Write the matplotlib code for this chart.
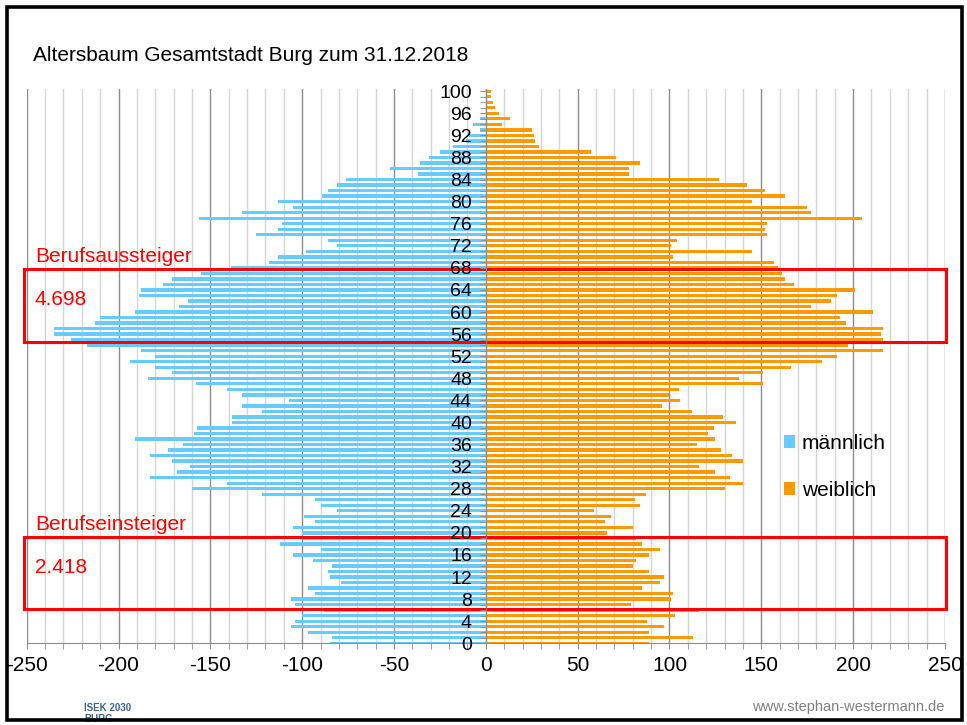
import numpy as np
import matplotlib
matplotlib.use('Agg')
import matplotlib.pyplot as plt
from matplotlib.ticker import MultipleLocator
from matplotlib.patches import Rectangle

plt.rcParams['font.family'] = ['Liberation Sans', 'DejaVu Sans']
plt.rcParams['axes.unicode_minus'] = False

# Altersbaum Burg, 31.12.2018 - Einwohner je Altersjahr
ages = np.arange(0, 101)
maennlich = [-85, -84, -97, -106, -104, -100, -88, -104, -106, -93,
             -97, -79, -85, -86, -84, -94, -105, -90, -112, -100,
             -100, -105, -93, -99, -81, -90, -93, -122, -160, -141,
             -183, -168, -161, -171, -183, -173, -165, -191, -159, -157,
             -138, -138, -122, -133, -107, -133, -141, -158, -184, -171,
             -180, -194, -180, -188, -217, -226, -235, -235, -213, -210,
             -191, -167, -162, -189, -188, -176, -171, -155, -139, -118,
             -113, -98, -81, -86, -125, -113, -111, -156, -133, -105,
             -113, -89, -86, -81, -76, -37, -52, -36, -31, -25,
             -18, -11, -9, -3, -7, -3, 0, 0, 0, 0, 0]
weiblich = [89, 113, 89, 97, 88, 103, 116, 79, 101, 102,
            85, 95, 97, 89, 80, 82, 89, 95, 85, 82,
            66, 80, 65, 68, 59, 84, 81, 87, 130, 140,
            133, 125, 116, 140, 134, 128, 115, 125, 121, 124,
            136, 129, 112, 96, 106, 100, 105, 151, 138, 151,
            166, 183, 191, 216, 197, 216, 215, 216, 196, 193,
            211, 177, 188, 191, 201, 168, 163, 161, 159, 157,
            102, 145, 101, 104, 153, 152, 153, 205, 177, 175,
            145, 163, 152, 142, 127, 78, 78, 84, 71, 57,
            29, 27, 26, 25, 9, 13, 7, 5, 4, 3, 3]
serien = ['männlich', 'weiblich']
farben = ['#66CCFF', '#FF9900']

# markierte Gruppen: (Titel, Anzahl, Altersbereich des Kastens)
gruppen = [('Berufsaussteiger', '4.698', 54.6, 67.8),
           ('Berufseinsteiger', '2.418', 6.2, 19.3)]

fig = plt.figure(figsize=(9.67, 7.25), dpi=100)
pos = [0.0276, 0.1127, 0.9496, 0.7645]
ax = fig.add_axes(pos)

b1 = ax.barh(ages, maennlich, height=0.6, color=farben[0], zorder=2)
b2 = ax.barh(ages, weiblich, height=0.6, color=farben[1], zorder=2)

ax.set_xlim(-250, 250)
ax.set_ylim(0, 100.4)
ax.xaxis.set_major_locator(MultipleLocator(50))
ax.xaxis.set_minor_locator(MultipleLocator(10))
ax.grid(axis='x', which='major', color='#8c8c8c', lw=1)
ax.grid(axis='x', which='minor', color='#d6d6d6', lw=1)
ax.set_axisbelow(True)
for s in ['top', 'right', 'left']:
    ax.spines[s].set_visible(False)
ax.spines['bottom'].set_color('#8c8c8c')
ax.tick_params(axis='y', which='both', left=False, labelleft=False)
ax.tick_params(axis='x', which='both', direction='out', length=4,
               color='#8c8c8c', labelsize=15, pad=5)

# Alters-Achse in der Mitte, ueber den Balken
ax2 = fig.add_axes(pos)
ax2.patch.set_visible(False)
ax2.set_xlim(-250, 250)
ax2.set_ylim(0, 100.4)
for s in ['top', 'right', 'bottom']:
    ax2.spines[s].set_visible(False)
ax2.spines['left'].set_position(('data', 0))
ax2.spines['left'].set_color('#8c8c8c')
ax2.set_xticks([])
ax2.yaxis.set_major_locator(MultipleLocator(4))
ax2.yaxis.set_minor_locator(MultipleLocator(1))
ax2.tick_params(axis='y', which='both', direction='out', length=4,
                color='#8c8c8c', labelsize=14, pad=6)

for titel, anzahl, y0, y1 in gruppen:
    ax.add_patch(Rectangle((-251.5, y0), 502, y1 - y0, fill=False,
                           ec='#FF0000', lw=2.2, clip_on=False, zorder=5))
    ax.text(-245.5, y1 + 2.2, titel, color='#FF0000', fontsize=15,
            va='center', ha='left')
    ax.text(-245.5, (y0 + y1) / 2 + 1, anzahl, color='#FF0000',
            fontsize=15, va='center', ha='left')

fig.legend([b1, b2], serien, loc='upper left',
           bbox_to_anchor=(0.8, 0.416), frameon=False, fontsize=15,
           handlelength=0.55, handleheight=0.55, handletextpad=0.3,
           labelspacing=1.35, borderpad=0)

fig.text(0.034, 0.924, 'Altersbaum Gesamtstadt Burg zum 31.12.2018',
         fontsize=15, va='center', ha='left')
fig.text(0.977, 0.025, 'www.stephan-westermann.de', color='#808080',
         fontsize=10.5, va='center', ha='right')
fig.text(0.087, 0.024, 'ISEK 2030', color='#3d6689', fontsize=7,
         fontweight='bold', va='center', ha='left')
fig.text(0.087, 0.008, 'BURG', color='#3d6689', fontsize=7,
         fontweight='bold', va='center', ha='left')

fig.add_artist(Rectangle((0.0072, 0.0069), 0.9876, 0.9834, fill=False,
                         ec='black', lw=2.6, transform=fig.transFigure,
                         zorder=10))

fig.savefig('out.png', dpi=100)
